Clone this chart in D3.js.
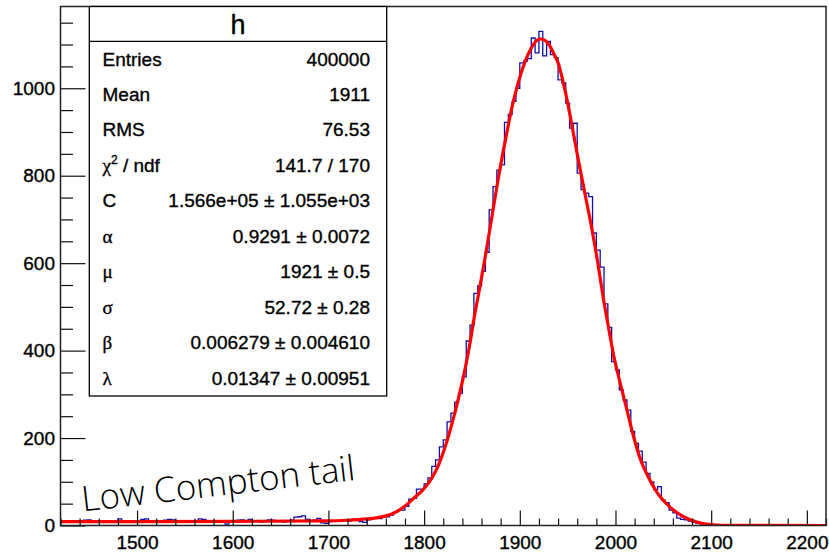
<!DOCTYPE html>
<html>
<head>
<meta charset="utf-8">
<script src="https://cdn.jsdelivr.net/npm/d3@7"></script>
<style>
  body { margin: 0; background: #fff; }
  text { font-family: "Liberation Sans", Arial, Helvetica, sans-serif; }
  .bold text, text.bold { stroke: #000; stroke-width: 0.35px; }
</style>
</head>
<body>
<div id="chart"></div>
<script>
// histogram h : 200 bins of width 4 starting at 1420
const binLow = 1420
const binWidth = 4
const counts = [
  9, 8, 10, 7, 9, 11, 12, 13, 10, 8,
  9, 7, 10, 9, 11, 15, 10, 8, 10, 9,
  8, 14, 15, 9, 10, 7, 9, 12, 14, 13,
  8, 10, 9, 7, 10, 9, 15, 14, 9, 10,
  8, 11, 9, 3, 7, 10, 12, 13, 11, 14,
  9, 10, 8, 9, 13, 12, 9, 10, 8, 11,
  12, 19, 20, 22, 14, 10, 12, 16, 6, 5,
  9, 11, 10, 12, 11, 10, 14, 13, 9, 7,
  13, 17, 18, 16, 19, 20, 24, 30, 35, 35,
  44, 60, 62, 83, 83, 95, 109, 135, 150, 180,
  196, 237, 257, 282, 302, 340, 422, 458, 531, 548,
  581, 625, 722, 775, 813, 825, 922, 940, 970, 1000,
  1058, 1062, 1068, 1115, 1081, 1130, 1074, 1107, 1077, 1070,
  1019, 1012, 966, 909, 920, 806, 768, 760, 752, 669,
  630, 591, 507, 453, 375, 356, 310, 287, 264, 215,
  188, 170, 145, 119, 100, 82, 89, 58, 52, 35,
  29, 17, 14, 13, 10, 8, 5, 4, 3, 1,
  0, 1, 0, 0, 0, 0, 0, 0, 0, 0,
  0, 0, 0, 0, 0, 0, 0, 0, 0, 0,
  0, 0, 0, 0, 0, 0, 0, 0, 0, 0
]

// fit curve
const fitX = [1420, 1500, 1600, 1700, 1720, 1740, 1750, 1760, 1768, 1776, 1783, 1790, 1799, 1808,
  1815, 1822, 1829, 1836, 1843, 1848, 1853, 1857, 1864, 1871, 1878, 1885, 1892, 1898, 1905,
  1912, 1917, 1921, 1926, 1931, 1936, 1940, 1947, 1954, 1961, 1968, 1975, 1982, 1987, 1992,
  1998, 2005, 2012, 2018, 2025, 2034, 2043, 2057, 2071, 2085, 2095, 2110, 2220]
const fitY = [9, 9, 9.5, 10.5, 12, 15, 17.5, 22, 28, 38, 50, 64, 82, 108,
  138, 180, 232, 292, 360, 418, 484, 530, 616, 708, 800, 882, 958, 1010, 1058,
  1092, 1108, 1113, 1110, 1098, 1077, 1058, 998, 921, 838, 760, 682, 594, 524, 462,
  390, 325, 264, 211, 158, 112, 77, 42, 20, 8, 3, 0.5, 0]

const xMajor = [1500, 1600, 1700, 1800, 1900, 2000, 2100, 2200]
const yMajor = [0, 200, 400, 600, 800, 1000]

const statTitle = 'h'
const statLabels = ['Entries', 'Mean', 'RMS', 'χ2 / ndf', 'C', 'α', 'μ', 'σ', 'β', 'λ']
const statValues = ['400000', '1911', '76.53', '141.7 / 170', '1.566e+05 ± 1.055e+03',
  '0.9291 ± 0.0072', '1921 ± 0.5', '52.72 ± 0.28', '0.006279 ± 0.004610', '0.01347 ± 0.00951']

const note = 'Low Compton tail'

const W = 829, H = 552
const frame = { left: 60.5, right: 826, top: 6.5, bottom: 525.5 }

let svg = d3.select('#chart')
  .append('svg')
  .attr('width', W)
  .attr('height', H)

let x = d3.scaleLinear()
  .domain([1420, 2220])
  .range([frame.left, frame.right])

let y = d3.scaleLinear()
  .domain([0, 1187])
  .range([frame.bottom, frame.top])

svg.append('clipPath').attr('id', 'clip')
  .append('rect')
  .attr('x', frame.left).attr('y', frame.top)
  .attr('width', frame.right - frame.left)
  .attr('height', frame.bottom - frame.top)

// histogram outline
let steps = []
counts.forEach((c, i) => {
  steps.push([binLow + i * binWidth, c])
  steps.push([binLow + (i + 1) * binWidth, c])
})

let line = d3.line()
  .x(d => x(d[0]))
  .y(d => y(d[1]))

svg.append('path')
  .datum(steps)
  .attr('clip-path', 'url(#clip)')
  .attr('d', line)
  .attr('fill', 'none')
  .attr('stroke', '#1010a8')
  .attr('stroke-width', 1.3)

// fit
let fitLine = d3.line()
  .x(d => x(d[0]))
  .y(d => y(d[1]))
  .curve(d3.curveMonotoneX)

svg.append('path')
  .datum(fitX.map((v, i) => [v, fitY[i]]))
  .attr('clip-path', 'url(#clip)')
  .attr('d', fitLine)
  .attr('fill', 'none')
  .attr('stroke', '#ff0000')
  .attr('stroke-width', 3.2)

// axes
let xMinor = d3.range(1420, 2221, 20).filter(v => !xMajor.includes(v))
let yMinor = d3.range(0, 1187, 50).filter(v => !yMajor.includes(v))

svg.append('g')
  .attr('transform', `translate(0,${frame.bottom})`)
  .call(d3.axisBottom(x).tickValues(xMinor).tickSize(-7).tickFormat(''))
  .call(g => g.select('.domain').remove())

svg.append('g')
  .attr('class', 'bold')
  .attr('transform', `translate(0,${frame.bottom})`)
  .call(d3.axisBottom(x).tickValues(xMajor).tickSize(-15).tickPadding(10).tickFormat(d3.format('d')))
  .call(g => g.select('.domain').remove())
  .call(g => g.selectAll('text').attr('font-size', 19).attr('fill', '#000')
    .style('font-family', '"Liberation Sans", Arial, sans-serif'))

svg.append('g')
  .attr('transform', `translate(${frame.left},0)`)
  .call(d3.axisLeft(y).tickValues(yMinor).tickSize(-12.5).tickFormat(''))
  .call(g => g.select('.domain').remove())

svg.append('g')
  .attr('class', 'bold')
  .attr('transform', `translate(${frame.left},0)`)
  .call(d3.axisLeft(y).tickValues(yMajor).tickSize(-25).tickPadding(5.5).tickFormat(d3.format('d')))
  .call(g => g.select('.domain').remove())
  .call(g => g.selectAll('text').attr('font-size', 19).attr('fill', '#000')
    .style('font-family', '"Liberation Sans", Arial, sans-serif'))

svg.selectAll('.tick line').attr('stroke', '#111').attr('stroke-width', 1.2)

// frame
svg.append('rect')
  .attr('x', frame.left).attr('y', frame.top)
  .attr('width', frame.right - frame.left)
  .attr('height', frame.bottom - frame.top)
  .attr('fill', 'none')
  .attr('stroke', '#222')
  .attr('stroke-width', 1.5)

// stats box
const box = { x0: 89.3, x1: 386.7, y0: 6.5, y1: 396, head: 41.3 }
let stats = svg.append('g').attr('class', 'bold')

stats.append('rect')
  .attr('x', box.x0).attr('y', box.y0)
  .attr('width', box.x1 - box.x0)
  .attr('height', box.y1 - box.y0)
  .attr('fill', '#fff')
  .attr('stroke', '#000')
  .attr('stroke-width', 1.3)

stats.append('line')
  .attr('x1', box.x0).attr('x2', box.x1)
  .attr('y1', box.head).attr('y2', box.head)
  .attr('stroke', '#000')
  .attr('stroke-width', 1.3)

stats.append('text')
  .attr('x', (box.x0 + box.x1) / 2)
  .attr('y', 34)
  .attr('text-anchor', 'middle')
  .attr('font-size', 27)
  .text(statTitle)

let rowH = (box.y1 - box.head) / statLabels.length
const greek = ['α', 'μ', 'σ', 'β', 'λ']

statLabels.forEach((lab, i) => {
  let cy = box.head + rowH * (i + 0.5) + 6.5
  let t = stats.append('text')
    .attr('x', 102.5)
    .attr('y', cy)
    .attr('font-size', 19)
  if (lab === 'χ2 / ndf') {
    t.append('tspan').style('font-family', '"Liberation Serif", serif').text('χ')
    t.append('tspan').attr('font-size', 12).attr('dy', -8).text('2')
    t.append('tspan').attr('dy', 8).text(' / ndf')
  } else if (greek.includes(lab)) {
    t.style('font-family', '"Liberation Serif", serif').text(lab)
  } else {
    t.text(lab)
  }
  stats.append('text')
    .attr('x', 370)
    .attr('y', cy)
    .attr('text-anchor', 'end')
    .attr('font-size', 19)
    .text(statValues[i])
})

// annotation
svg.append('text')
  .attr('transform', 'translate(83,511.5) rotate(-6.6)')
  .attr('font-size', 35)
  .attr('font-weight', 300)
  .style('font-family', '"Open Sans", "Noto Sans", sans-serif')
  .attr('fill', '#000')
  .text(note)
</script>
</body>
</html>
